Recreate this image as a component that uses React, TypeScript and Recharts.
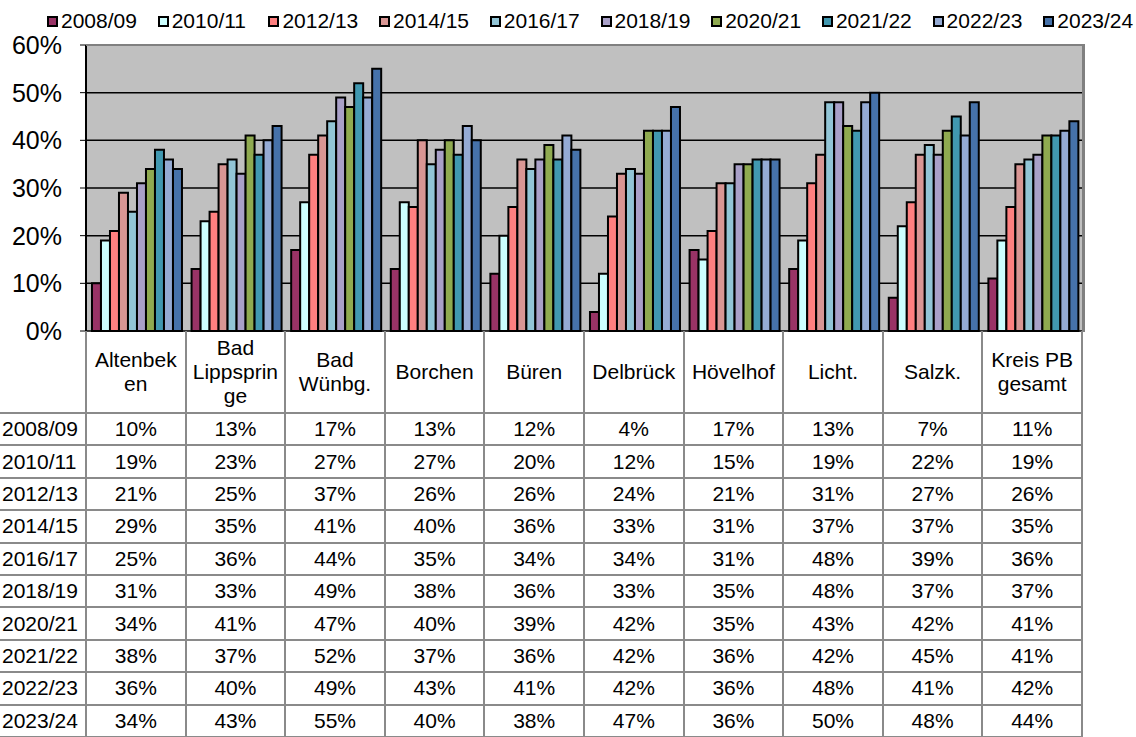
import React from "react";
import { BarChart, Bar, XAxis, YAxis, CartesianGrid } from "recharts";

const categories = [
  "Altenbeken",
  "Bad Lippspringe",
  "Bad Wünbg.",
  "Borchen",
  "Büren",
  "Delbrück",
  "Hövelhof",
  "Licht.",
  "Salzk.",
  "Kreis PB gesamt",
];

const seriesNames = ["2008/09", "2010/11", "2012/13", "2014/15", "2016/17", "2018/19", "2020/21", "2021/22", "2022/23", "2023/24"];
const seriesColors = ["#993366", "#CCFFFF", "#FF8080", "#D99694", "#92C5D6", "#A9A0C8", "#8FAA50", "#4198B0", "#95ABD4", "#4672AA"];

const s2008 = [10, 13, 17, 13, 12, 4, 17, 13, 7, 11];
const s2010 = [19, 23, 27, 27, 20, 12, 15, 19, 22, 19];
const s2012 = [21, 25, 37, 26, 26, 24, 21, 31, 27, 26];
const s2014 = [29, 35, 41, 40, 36, 33, 31, 37, 37, 35];
const s2016 = [25, 36, 44, 35, 34, 34, 31, 48, 39, 36];
const s2018 = [31, 33, 49, 38, 36, 33, 35, 48, 37, 37];
const s2020 = [34, 41, 47, 40, 39, 42, 35, 43, 42, 41];
const s2021 = [38, 37, 52, 37, 36, 42, 36, 42, 45, 41];
const s2022 = [36, 40, 49, 43, 41, 42, 36, 48, 41, 42];
const s2023 = [34, 43, 55, 40, 38, 47, 36, 50, 48, 44];

const seriesValues = [s2008, s2010, s2012, s2014, s2016, s2018, s2020, s2021, s2022, s2023];
const yTicks = [0, 10, 20, 30, 40, 50, 60];

const data = categories.map((name, i) => {
  const row: Record<string, any> = { name };
  seriesNames.forEach((s, k) => {
    row[s] = seriesValues[k][i];
  });
  return row;
});

const FONT = '"Liberation Sans", Arial, Helvetica, sans-serif';
const PLOT_LEFT = 86;
const PLOT_RIGHT = 1082;
const PLOT_TOP = 45;
const PLOT_BOTTOM = 331;
const CHART_H = 360;
const COL_W = (PLOT_RIGHT - PLOT_LEFT) / categories.length;
const HEADER_BOTTOM = 413;
const ROW_H = 32.4;
const GRID = "#8a8a8a";

export default function App() {
  return (
    <div
      style={{
        position: "absolute",
        left: 0,
        top: 0,
        width: 1136,
        height: 737,
        overflow: "hidden",
        background: "#fff",
        fontFamily: FONT,
        color: "#000",
      }}
    >
      {/* Legend */}
      {seriesNames.map((s, i) => (
        <div
          key={s}
          style={{
            position: "absolute",
            left: 47 + i * 110.7,
            top: 10,
            height: 22,
            display: "flex",
            alignItems: "center",
            gap: 3,
            fontSize: 21,
            lineHeight: "22px",
            whiteSpace: "nowrap",
          }}
        >
          <div
            style={{
              width: 11,
              height: 11,
              boxSizing: "border-box",
              border: "2px solid #000",
              background: seriesColors[i],
            }}
          />
          <span>{s}</span>
        </div>
      ))}

      {/* Chart */}
      <div style={{ position: "absolute", left: 0, top: 0 }}>
        <BarChart
          width={1136}
          height={CHART_H}
          data={data}
          margin={{ top: PLOT_TOP, right: 1136 - PLOT_RIGHT, left: 0, bottom: CHART_H - PLOT_BOTTOM }}
          barCategoryGap="6%"
          barGap={0}
        >
          <CartesianGrid vertical={false} stroke="#000" strokeWidth={1.5} fill="#C0C0C0" fillOpacity={1} />
          <XAxis dataKey="name" hide />
          <YAxis
            width={PLOT_LEFT}
            domain={[0, 60]}
            ticks={yTicks}
            interval={0}
            tickFormatter={(v: number) => `${v}%`}
            tick={{ fontSize: 25, fill: "#000", fontFamily: FONT }}
            tickLine={{ stroke: "#000", strokeWidth: 1 }}
            tickSize={6}
            tickMargin={18}
            axisLine={{ stroke: "#000", strokeWidth: 2 }}
          />
          {seriesNames.map((s, i) => (
            <Bar key={s} dataKey={s} fill={seriesColors[i]} stroke="#000" strokeWidth={2} isAnimationActive={false} />
          ))}
        </BarChart>
      </div>

      {/* Plot frame (top/right) */}
      <div
        style={{
          position: "absolute",
          left: PLOT_LEFT,
          top: PLOT_TOP - 1,
          width: PLOT_RIGHT - PLOT_LEFT,
          height: PLOT_BOTTOM - PLOT_TOP,
          borderTop: "2px solid #808080",
          borderRight: "3px solid #808080",
          boxSizing: "content-box",
          pointerEvents: "none",
        }}
      />

      {/* Table background to hide chart overflow below plot */}
      <div
        style={{
          position: "absolute",
          left: PLOT_LEFT + 1,
          top: PLOT_BOTTOM + 1,
          width: PLOT_RIGHT - PLOT_LEFT,
          height: 737 - PLOT_BOTTOM,
          background: "#fff",
        }}
      />

      {/* Category header cells */}
      {categories.map((c, i) => (
        <div
          key={c}
          style={{
            position: "absolute",
            left: PLOT_LEFT + i * COL_W,
            top: PLOT_BOTTOM,
            width: COL_W,
            height: HEADER_BOTTOM - PLOT_BOTTOM,
            display: "flex",
            alignItems: "center",
            justifyContent: "center",
            textAlign: "center",
            fontSize: 21,
            lineHeight: "24px",
            padding: "0 6px",
            boxSizing: "border-box",
            overflowWrap: "anywhere",
          }}
        >
          <span style={{ width: "100%" }}>{c}</span>
        </div>
      ))}

      {/* Data rows */}
      {seriesNames.map((s, r) => (
        <React.Fragment key={s}>
          <div
            style={{
              position: "absolute",
              left: 2,
              top: HEADER_BOTTOM + r * ROW_H,
              height: ROW_H,
              display: "flex",
              alignItems: "center",
              fontSize: 21,
              whiteSpace: "nowrap",
            }}
          >
            {s}
          </div>
          {seriesValues[r].map((v, i) => (
            <div
              key={i}
              style={{
                position: "absolute",
                left: PLOT_LEFT + i * COL_W,
                top: HEADER_BOTTOM + r * ROW_H,
                width: COL_W,
                height: ROW_H,
                display: "flex",
                alignItems: "center",
                justifyContent: "center",
                fontSize: 21,
              }}
            >
              {`${v}%`}
            </div>
          ))}
        </React.Fragment>
      ))}

      {/* Table grid: vertical lines */}
      {Array.from({ length: categories.length + 1 }).map((_, i) => (
        <div
          key={"v" + i}
          style={{
            position: "absolute",
            left: PLOT_LEFT + i * COL_W - 1,
            top: PLOT_BOTTOM,
            width: 2,
            height: 737 - PLOT_BOTTOM,
            background: GRID,
          }}
        />
      ))}
      {/* Table grid: horizontal lines */}
      {Array.from({ length: seriesNames.length + 1 }).map((_, j) => (
        <div
          key={"h" + j}
          style={{
            position: "absolute",
            left: 0,
            top: HEADER_BOTTOM + j * ROW_H - 1,
            width: PLOT_RIGHT + 1,
            height: 2,
            background: GRID,
          }}
        />
      ))}
    </div>
  );
}
